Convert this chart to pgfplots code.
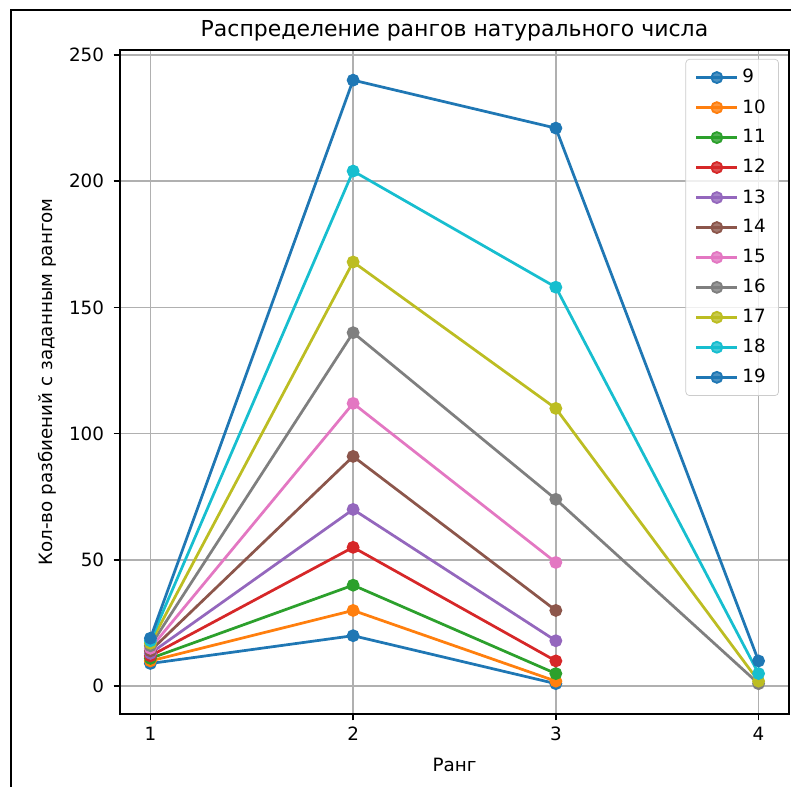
\documentclass[border=0pt]{standalone}
\usepackage{fontspec}
\setmainfont{DejaVu Sans}
\usepackage{pgfplots}
\pgfplotsset{compat=1.18}
\definecolor{c0}{HTML}{1F77B4}
\definecolor{c1}{HTML}{FF7F0E}
\definecolor{c2}{HTML}{2CA02C}
\definecolor{c3}{HTML}{D62728}
\definecolor{c4}{HTML}{9467BD}
\definecolor{c5}{HTML}{8C564B}
\definecolor{c6}{HTML}{E377C2}
\definecolor{c7}{HTML}{7F7F7F}
\definecolor{c8}{HTML}{BCBD22}
\definecolor{c9}{HTML}{17BECF}
\definecolor{gridc}{HTML}{B0B0B0}
\definecolor{legc}{HTML}{CCCCCC}
\begin{document}
\begin{tikzpicture}
\useasboundingbox (-65.52pt,-39.86pt) rectangle (366.4pt,389.8pt);
\draw[line width=1.1pt] (-59.5pt,-50pt) -- (-59.5pt,384.4pt) -- (380pt,384.4pt);
\begin{axis}[
  at={(0,0)}, anchor=south west,
  scale only axis, width=365.3pt, height=362.5pt,
  xmin=0.85, xmax=4.15, ymin=-10.95, ymax=251.95,
  xtick={1,2,3,4}, ytick={0,50,100,150,200,250},
  xtick pos=bottom, ytick pos=left,
  tick align=outside, major tick length=3.5pt,
  tick style={black, line width=0.8pt},
  axis line style={black, line width=0.8pt},
  grid=major, major grid style={gridc, line width=0.8pt},
  /pgf/number format/assume math mode=true,
  ticklabel style={font=\fontsize{10}{12}\selectfont},
  xticklabel style={inner sep=0pt, yshift=-3.5pt},
  yticklabel style={inner sep=0pt, xshift=-5pt},
  title={Распределение рангов натурального числа},
  title style={at={(axis description cs:0.5,1)}, anchor=base, yshift=1.1pt, inner sep=0pt, font=\fontsize{12}{14.4}\selectfont},
  xlabel={Ранг},
  xlabel style={at={(axis description cs:0.5,0)}, anchor=base, yshift=-31.7pt, inner sep=0pt, font=\fontsize{10}{12}\selectfont},
  ylabel={Кол-во разбиений с заданным рангом},
  ylabel style={at={(axis description cs:0,0.5)}, anchor=center, yshift=39.9pt, inner sep=0pt, font=\fontsize{10}{12}\selectfont},
  legend cell align=left,
  legend style={at={(axis description cs:1,1)}, anchor=north east, xshift=-5.5pt, yshift=-4.9pt,
    draw=legc, rounded corners=2pt, fill=white, fill opacity=0.8, text opacity=1,
    font=\fontsize{10}{12}\selectfont, row sep=3.5pt, inner xsep=5pt, inner ysep=3.5pt},
  legend image code/.code={\draw[mark repeat=2,mark phase=2] plot coordinates {(0pt,0pt) (11.2pt,0pt) (22.4pt,0pt)};},
  every axis plot/.append style={line width=1.5pt, mark=*, mark size=3pt, mark options={solid, line width=1pt}},
]
\addplot[c0] coordinates {(1,9) (2,20) (3,1)};
\addlegendentry{9}
\addplot[c1] coordinates {(1,10) (2,30) (3,2)};
\addlegendentry{10}
\addplot[c2] coordinates {(1,11) (2,40) (3,5)};
\addlegendentry{11}
\addplot[c3] coordinates {(1,12) (2,55) (3,10)};
\addlegendentry{12}
\addplot[c4] coordinates {(1,13) (2,70) (3,18)};
\addlegendentry{13}
\addplot[c5] coordinates {(1,14) (2,91) (3,30)};
\addlegendentry{14}
\addplot[c6] coordinates {(1,15) (2,112) (3,49)};
\addlegendentry{15}
\addplot[c7] coordinates {(1,16) (2,140) (3,74) (4,1)};
\addlegendentry{16}
\addplot[c8] coordinates {(1,17) (2,168) (3,110) (4,2)};
\addlegendentry{17}
\addplot[c9] coordinates {(1,18) (2,204) (3,158) (4,5)};
\addlegendentry{18}
\addplot[c0] coordinates {(1,19) (2,240) (3,221) (4,10)};
\addlegendentry{19}
\end{axis}
\end{tikzpicture}
\end{document}
